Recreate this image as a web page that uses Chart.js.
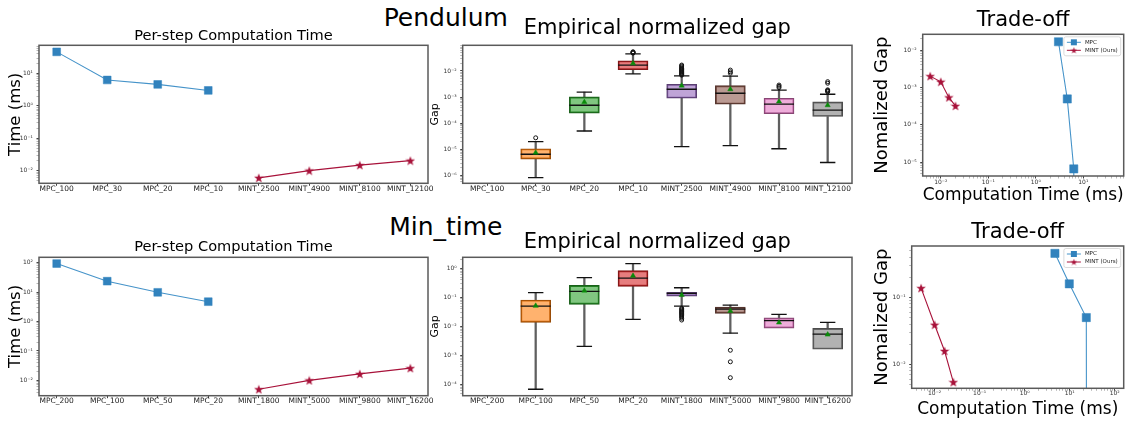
<!DOCTYPE html>
<html><head><meta charset="utf-8">
<script src="https://cdn.jsdelivr.net/npm/chart.js@4.4.1/dist/chart.umd.min.js"></script>
<style>
html,body{margin:0;padding:0;background:#fff;width:1130px;height:423px;overflow:hidden;}
.panel{position:absolute;}
.sup{position:absolute;font-family:"DejaVu Sans",sans-serif;font-size:25px;line-height:25px;width:240px;text-align:center;color:#000;white-space:nowrap;}
</style></head><body>
<div class="sup" style="left:325.8px;top:4.5px">Pendulum</div>
<div class="sup" style="left:325.8px;top:214.3px">Min_time</div>
<div class="panel" style="left:0px;top:0px"><canvas id="cA" width="445" height="205"></canvas></div>
<div class="panel" style="left:425px;top:0px"><canvas id="cB" width="445" height="205"></canvas></div>
<div class="panel" style="left:866px;top:0px"><canvas id="cC" width="264" height="205"></canvas></div>
<div class="panel" style="left:0px;top:205px"><canvas id="cD" width="445" height="218"></canvas></div>
<div class="panel" style="left:425px;top:205px"><canvas id="cE" width="445" height="218"></canvas></div>
<div class="panel" style="left:866px;top:205px"><canvas id="cF" width="264" height="218"></canvas></div>
<script>
// ---------------- DATA: Pendulum ----------------
const pendCats = ['MPC_100','MPC_30','MPC_20','MPC_10','MINT_2500','MINT_4900','MINT_8100','MINT_12100'];
const pendMpcTime = [46.5, 6.3, 4.6, 3.0];
const pendMintTime = [0.0060, 0.0100, 0.0148, 0.0204];
const pendGapMin  = [0, 8.5e-7, 5.1e-5, 0.0078, 1.29e-5, 1.41e-5, 1.07e-5, 3.2e-6];
const pendGapQ1   = [0, 4.3e-6, 2.45e-4, 0.0112, 9.1e-4, 5.4e-4, 2.34e-4, 1.82e-4];
const pendGapMed  = [0, 6.6e-6, 4.9e-4, 0.0166, 2.0e-3, 1.41e-3, 5.4e-4, 3.2e-4];
const pendGapQ3   = [0, 1.07e-5, 1.02e-3, 0.0245, 3.1e-3, 2.75e-3, 9.1e-4, 6.6e-4];
const pendGapMax  = [0, 2.0e-5, 1.55e-3, 0.0447, 6.5e-3, 6.3e-3, 1.86e-3, 1.29e-3];
const pendGapMean = [0, 7.6e-6, 6.5e-4, 0.0195, 2.75e-3, 2.0e-3, 6.8e-4, 4.9e-4];
const pendGapOutliers = [
  [], [2.8e-5], [], [0.048, 0.050, 0.052, 0.054],
  [0.0069,0.0073,0.0078,0.0083,0.0088,0.0094,0.0100,0.0107,0.0114,0.0122,0.0130,0.0142,0.0155,0.0168],
  [0.0082, 0.0093, 0.0108], [0.0023, 0.0026, 0.0029], [0.0016, 0.0017, 0.0018, 0.0019, 0.0034, 0.0039]
];
// ---------------- DATA: Min_time ----------------
const mtCats = ['MPC_200','MPC_100','MPC_50','MPC_20','MINT_1800','MINT_5000','MINT_9800','MINT_16200'];
const mtMpcTime = [93, 23.4, 9.8, 4.7];
const mtMintTime = [0.0050, 0.0100, 0.0166, 0.0260];
const mtGapMin  = [0, 6.8e-5, 2.04e-3, 0.0174, 0.050, 5.8e-3, 0, 0];
const mtGapQ1   = [0, 0.0138, 0.0575, 0.24, 0.110, 0.028, 8.7e-3, 1.62e-3];
const mtGapMed  = [0, 0.050, 0.160, 0.457, 0.138, 0.039, 0.0158, 5.4e-3];
const mtGapQ3   = [0, 0.081, 0.257, 0.83, 0.148, 0.046, 0.0195, 8.5e-3];
const mtGapMax  = [0, 0.145, 0.479, 1.45, 0.214, 0.054, 0.0257, 0.0138];
const mtGapMean = [0, 0.051, 0.170, 0.55, 0.120, 0.034, 0.0135, 5.2e-3];
const mtGapOutliers = [
  [], [], [], [],
  [0.042,0.039,0.036,0.033,0.031,0.029,0.027,0.025,0.023,0.021,0.019,0.0165],
  [1.5e-3, 6.0e-4, 1.7e-4], [], []
];
const seriesNames = ['MPC', 'MINT (Ours)'];

// ---------------- STYLE ----------------
const tab = [[31,119,180],[255,127,14],[44,160,44],[214,39,40],[148,103,189],[140,86,75],[227,119,194],[127,127,127]];
const boxFill = tab.map(c => `rgba(${c[0]},${c[1]},${c[2]},0.6)`);
const boxEdge = tab.map(c => `rgb(${Math.round(c[0]*0.6)},${Math.round(c[1]*0.6)},${Math.round(c[2]*0.6)})`);
const BLUE = '#3182bd', BLUE_LINE = '#4593c9', RED = '#a8123a';
const TICK_FONT = 6;

Chart.defaults.font.family = '"DejaVu Sans", sans-serif';
Chart.defaults.color = '#222';
Chart.defaults.animation = false;

function starCanvas(size, color){
  const c = document.createElement('canvas'); c.width = c.height = size;
  const g = c.getContext('2d'); const R = size/2, r = R*0.4, cx = size/2, cy = size/2 + R*0.08;
  g.beginPath();
  for (let k=0;k<10;k++){ const a = -Math.PI/2 + k*Math.PI/5; const rr = k%2===0 ? R : r; g.lineTo(cx+rr*Math.cos(a), cy+rr*Math.sin(a)); }
  g.closePath(); g.fillStyle = color; g.fill();
  return c;
}
const STAR = starCanvas(10, RED);
const STAR_SMALL = starCanvas(7, RED);

const SUP = {'-':'\u207B','0':'\u2070','1':'\u00B9','2':'\u00B2','3':'\u00B3','4':'\u2074','5':'\u2075','6':'\u2076','7':'\u2077','8':'\u2078','9':'\u2079'};
function pow10Label(v){
  const e = Math.log10(v), r = Math.round(e);
  if (Math.abs(e - r) > 1e-6) return '';
  return '10' + String(r).split('').map(ch => SUP[ch]).join('');
}
function logTicks(min, max){
  const out = [];
  const e0 = Math.floor(Math.log10(min)), e1 = Math.ceil(Math.log10(max));
  for (let e=e0; e<=e1; e++) for (let k=1; k<10; k++){
    const v = k*Math.pow(10, e);
    if (v >= min*0.9999 && v <= max*1.0001) out.push({value: v, major: k===1});
  }
  return out;
}
const tickGrid = (len) => ({
  display:true, drawOnChartArea:false, drawTicks:true, tickLength:len,
  tickWidth: c => (c.tick && c.tick.major === false) ? 0.7 : 1,
  tickColor: c => (c.tick && c.tick.major === false) ? '#9a9a9a' : '#444',
  offset:false
});
function logAxis(min, max, o){
  return {
    type:'logarithmic', min, max,
    afterBuildTicks: s => { s.ticks = logTicks(min, max); },
    afterFit: s => { if (o.w != null) s.width = o.w; if (o.h != null) s.height = o.h; },
    ticks:{autoSkip:false, maxRotation:0, minRotation:0, padding:o.pad, color:'#333', font:{size:TICK_FONT, lineHeight:1}, callback: v => pow10Label(v)},
    grid: tickGrid(2.5),
    border:{display:false},
    title: o.title ? {display:true, text:o.title, color:'#000', font:{size:o.tsize, lineHeight:1}, padding:o.tpad} : {display:false}
  };
}
const frame = { id:'frame', afterDatasetsDraw(chart){
  const {ctx, chartArea:a} = chart; ctx.save(); ctx.strokeStyle='#5a5a5a'; ctx.lineWidth=1.5;
  ctx.strokeRect(a.left, a.top, a.right-a.left, a.bottom-a.top); ctx.restore(); } };
const miniLegend = { id:'miniLegend', afterDraw(chart, args, opts){
  if (!opts || !opts.show) return;
  const {ctx, chartArea:a} = chart; const ds = chart.data.datasets.filter(d => d.label);
  ctx.save(); ctx.font = '5.5px "DejaVu Sans", sans-serif';
  const tw = Math.max(...ds.map(d => ctx.measureText(d.label).width));
  const pad = 3, sw = 14, rowH = 8;
  const w = pad + sw + 4 + tw + pad, h = rowH*ds.length + 3;
  const x = a.right - 3 - w, y = a.top + 2.5;
  ctx.fillStyle='rgba(255,255,255,0.85)'; ctx.strokeStyle='#d0d0d0'; ctx.lineWidth=0.8;
  ctx.beginPath(); ctx.roundRect(x, y, w, h, 2); ctx.fill(); ctx.stroke();
  ds.forEach((d,i) => {
    const cy = y + 1.5 + rowH*i + rowH/2, x0 = x + pad, cx = x0 + sw/2;
    ctx.strokeStyle = d.borderColor; ctx.lineWidth = 1; ctx.beginPath(); ctx.moveTo(x0, cy); ctx.lineTo(x0+sw, cy); ctx.stroke();
    if (d.pointStyle === 'rect'){ ctx.fillStyle = d.pointBackgroundColor; ctx.fillRect(cx-3, cy-3, 6, 6); }
    else { ctx.drawImage(STAR_SMALL, cx-3.5, cy-3.5, 7, 7); }
    ctx.fillStyle = '#222'; ctx.textBaseline='middle'; ctx.textAlign='left'; ctx.fillText(d.label, x0+sw+4, cy);
  });
  ctx.restore(); } };

function titleCfg(text, size, top, bottom){
  return {display:true, text, color:'#000', fullSize:false, font:{size, weight:'normal', lineHeight:1}, padding:{top, bottom}};
}

function timeChart(id, cats, mpcT, mintT, yMin, yMax, lay){
  return new Chart(document.getElementById(id), {
    type:'line',
    data:{ datasets:[
      {label:seriesNames[0], data: mpcT.map((v,i)=>({x:i, y:v})), borderColor:BLUE_LINE, borderWidth:1.1,
       pointStyle:'rect', pointRadius:5.5, pointBackgroundColor:BLUE, pointBorderColor:BLUE, pointBorderWidth:0.5},
      {label:seriesNames[1], data: mintT.map((v,i)=>({x:mpcT.length+i, y:v})), borderColor:RED, borderWidth:1.1,
       pointStyle:STAR, pointRadius:5}
    ]},
    options:{ responsive:false, layout:{padding:{left:0, right:lay.padR, top:0, bottom:0}},
      plugins:{legend:{display:false}, tooltip:{enabled:false}, title:titleCfg('Per-step Computation Time', 14.6, lay.tTop, lay.tBot)},
      scales:{
        x:{type:'linear', min:-0.35, max:7.35,
           afterBuildTicks: s => { s.ticks = cats.map((c,i)=>({value:i})); },
           afterFit: s => { s.height = lay.xH; },
           ticks:{autoSkip:false, maxRotation:0, minRotation:0, padding:-1, color:'#222', font:{size:7.5, lineHeight:1}, callback: v => cats[v] || ''},
           grid: tickGrid(2.5), border:{display:false}},
        y: logAxis(yMin, yMax, {w:39, pad:3.5, title:'Time (ms)', tsize:16.5, tpad:{top:7.45, bottom:0}})
      }
    },
    plugins:[frame]
  });
}

function boxChart(id, cats, mn, q1, med, q3, mx, mean, outl, yMin, yMax, lay){
  const has = cats.map((c,i) => q3[i] > 0);
  const pts = (arr) => cats.map((c,i) => (has[i] && arr[i] > 0) ? {x:c, y:arr[i]} : null).filter(Boolean);
  const caps = pts(mn).concat(pts(mx));
  const outPts = []; outl.forEach((list,i) => list.forEach(v => outPts.push({x:cats[i], y:v})));
  return new Chart(document.getElementById(id), {
    type:'bar',
    data:{ labels:cats, datasets:[
      {type:'bar', data: cats.map((c,i)=> has[i] ? [mn[i], q1[i]] : null), barThickness:1.6, backgroundColor:'#5f5f5f', grouped:false, order:7},
      {type:'bar', data: cats.map((c,i)=> has[i] ? [q3[i], mx[i]] : null), barThickness:1.6, backgroundColor:'#5f5f5f', grouped:false, order:7},
      {type:'bar', data: cats.map((c,i)=> has[i] ? [q1[i], q3[i]] : null), barThickness:30, backgroundColor:boxFill, borderColor:boxEdge, borderWidth:1.2, borderSkipped:false, grouped:false, order:6},
      {type:'line', showLine:false, data:caps, pointStyle:'line', pointRadius:7.7, pointBorderColor:'#111', pointBorderWidth:1.3, order:5},
      {type:'line', showLine:false, data:pts(med), pointStyle:'line', pointRadius:15, pointBorderColor:'#111', pointBorderWidth:1.3, order:4},
      {type:'line', showLine:false, data:outPts, pointStyle:'circle', pointRadius:2, pointBorderColor:'#111', pointBackgroundColor:'rgba(255,255,255,0)', pointBorderWidth:1, order:3},
      {type:'line', showLine:false, data:pts(mean), pointStyle:'triangle', pointRadius:3, pointBackgroundColor:'#0a8a0a', pointBorderColor:'#0a8a0a', pointBorderWidth:0.5, order:2}
    ]},
    options:{ responsive:false, layout:{padding:{left:0, right:lay.padR, top:0, bottom:0}},
      plugins:{legend:{display:false}, tooltip:{enabled:false}, title:titleCfg('Empirical normalized gap', 21, lay.tTop, lay.tBot)},
      scales:{
        x:{type:'category', offset:true, afterFit: s => { s.height = lay.xH; },
           ticks:{autoSkip:false, maxRotation:0, minRotation:0, padding:-1, color:'#222', font:{size:7.5, lineHeight:1}},
           grid: tickGrid(2.5), border:{display:false}},
        y: logAxis(yMin, yMax, {w:lay.yW, pad:3.5, title:'Gap', tsize:11, tpad:{top:4.8, bottom:0}})
      }
    },
    plugins:[frame]
  });
}

function tradeChart(id, mpcT, mintT, mpcGap, mintGap, xr, yr, lay){
  // non-positive gaps are clipped far below the axis, as a log plot does
  const clipLog = v => v > 0 ? v : 1e-300;
  return new Chart(document.getElementById(id), {
    type:'line',
    data:{ datasets:[
      {label:seriesNames[0], data: mpcT.map((t,i)=>({x:t, y:clipLog(mpcGap[i])})), borderColor:BLUE_LINE, borderWidth:1.1,
       pointStyle:'rect', pointRadius:5.8, pointBackgroundColor:BLUE, pointBorderColor:BLUE, pointBorderWidth:0.5},
      {label:seriesNames[1], data: mintT.map((t,i)=>({x:t, y:clipLog(mintGap[i])})), borderColor:RED, borderWidth:1.1,
       pointStyle:STAR, pointRadius:5}
    ]},
    options:{ responsive:false, layout:{padding:{left:0, right:lay.padR, top:0, bottom:0}},
      plugins:{legend:{display:false}, tooltip:{enabled:false}, title:titleCfg('Trade-off', 21, lay.tTop, lay.tBot), miniLegend:{show:true}},
      scales:{
        x: logAxis(xr[0], xr[1], {h:lay.xH, pad:lay.xPad, title:'Computation Time (ms)', tsize:17, tpad:{top:0, bottom:lay.xtPad}}),
        y: logAxis(yr[0], yr[1], {w:lay.yW, pad:3.5, title:'Nomalized Gap', tsize:18, tpad:{top:lay.ytPad, bottom:0}})
      }
    },
    plugins:[frame, miniLegend]
  });
}

const P = (e) => Math.pow(10, e);
timeChart('cA', pendCats, pendMpcTime, pendMintTime, P(-2.39), P(1.87), {padR:17, xH:21.7, tTop:29, tBot:1.7});
timeChart('cD', mtCats, mtMpcTime, mtMintTime, P(-2.52), P(2.18), {padR:17, xH:27.3, tTop:34.7, tBot:3});
boxChart('cB', pendCats, pendGapMin, pendGapQ1, pendGapMed, pendGapQ3, pendGapMax, pendGapMean, pendGapOutliers, P(-6.29), P(-1.02), {padR:18, xH:21.7, yW:37.7, tTop:18, tBot:6.3});
boxChart('cE', mtCats, mtGapMin, mtGapQ1, mtGapMed, mtGapQ3, mtGapMax, mtGapMean, mtGapOutliers, P(-4.39), P(0.38), {padR:18, xH:27.3, yW:37.7, tTop:26.8, tBot:4.5});
tradeChart('cC', pendMpcTime, pendMintTime, pendGapMed.slice(0,4), pendGapMed.slice(4), [P(-2.38), P(1.85)], [P(-5.37), P(-1.58)],
  {padR:2.3, xH:29, yW:56.7, tTop:9.9, tBot:3.4, xPad:0.5, xtPad:0.5, ytPad:7.3});
tradeChart('cF', mtMpcTime, mtMintTime, mtGapMed.slice(0,4), mtGapMed.slice(4), [P(-2.51), P(2.2)], [P(-2.36), P(-0.23)],
  {padR:1.7, xH:34.7, yW:45.7, tTop:17.2, tBot:2.8, xPad:-0.5, xtPad:5.3, ytPad:7.8});
</script>
</body></html>
